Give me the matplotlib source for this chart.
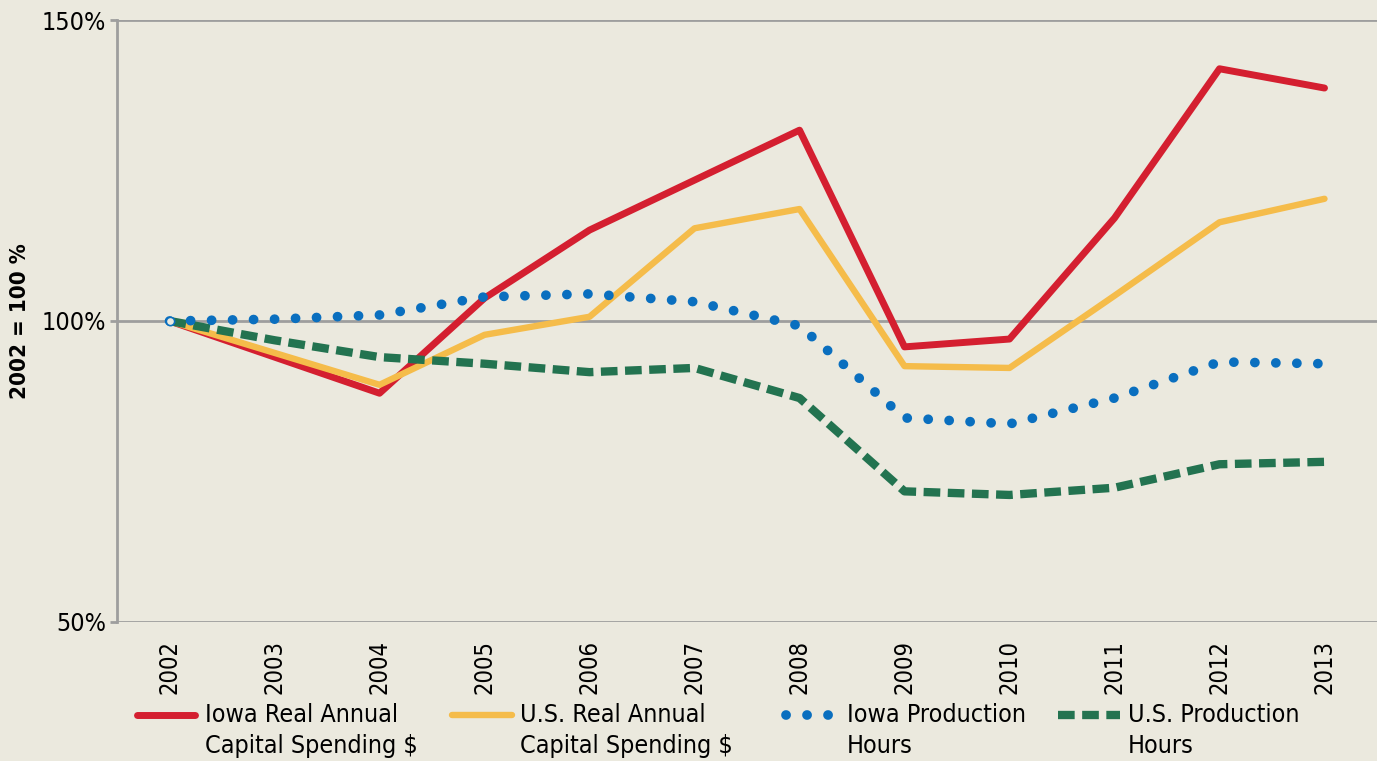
import numpy as np
import matplotlib
matplotlib.use("Agg")
import matplotlib.pyplot as plt
from matplotlib.lines import Line2D

plt.rcParams['font.family'] = ['DejaVu Sans']
plt.rcParams['font.stretch'] = 'condensed'

years = [2002, 2003, 2004, 2005, 2006, 2007, 2008, 2009, 2010, 2011, 2012, 2013]
iowa_capital = [100, 94.0, 88.0, 103.8, 115.1, 123.4, 131.7, 95.7, 97.0, 117.1, 141.9, 138.7]
us_capital = [100, 94.7, 89.4, 97.7, 100.7, 115.4, 118.6, 92.5, 92.2, 104.2, 116.4, 120.3]
iowa_hours = [100, 100.3, 101.0, 104.0, 104.5, 103.2, 99.2, 83.9, 82.9, 87.2, 93.2, 92.9]
us_hours = [100, 96.8, 94.0, 92.9, 91.5, 92.2, 87.2, 71.7, 71.1, 72.3, 76.2, 76.6]

labels = ["Iowa Real Annual\nCapital Spending $", "U.S. Real Annual\nCapital Spending $",
          "Iowa Production\nHours", "U.S. Production\nHours"]

bg = "#EBE9DE"
grey = "#9E9E9E"

fig = plt.figure(figsize=(13.77, 7.61), dpi=100, facecolor=bg)
ax = fig.add_axes([0.085, 0.1827, 0.915, 0.791])
ax.set_facecolor(bg)

x = np.arange(len(years))

for yv in [50, 100, 150]:
    ax.axhline(yv, color=grey, lw=2, zorder=1)

styles = [
    dict(color="#D41F30", lw=5, solid_capstyle="round"),
    dict(color="#F5BC4A", lw=4.6, solid_capstyle="round"),
    dict(color="#0A6FBF", lw=7, linestyle=(0, (0.01, 2.15)), dash_capstyle="round"),
    dict(color="#237350", lw=6, linestyle=(0, (2.0, 0.9)), dash_capstyle="butt"),
]
series = [iowa_capital, us_capital, iowa_hours, us_hours]
zorders = [3, 4, 5, 4]
for vals, st, z in zip(series, styles, zorders):
    ax.plot(x, vals, zorder=z, **st)
ax.plot(x[:1], iowa_hours[:1], 'o', ms=6, mfc=bg, mec="#0A6FBF", mew=1.2, zorder=6)

ax.set_xlim(-0.5, 11.5)
ax.set_ylim(50, 150)
ax.set_yticks([50, 100, 150])
ax.set_yticklabels(["50%", "100%", "150%"], fontsize=18)
ax.set_xticks(x)
ax.set_xticklabels([str(y) for y in years], rotation=90, fontsize=17)
ax.tick_params(axis='x', length=0, pad=13)
ax.tick_params(axis='y', length=5, width=2, color=grey, pad=3)
for s in ['top', 'right', 'bottom']:
    ax.spines[s].set_visible(False)
ax.spines['left'].set_color(grey)
ax.spines['left'].set_linewidth(2)
ax.set_ylabel("2002 = 100 %", fontsize=16, fontweight="bold")
ax.yaxis.set_label_coords(-0.069, 0.5)

# legend drawn by hand: handle on the first text line
W, H = 1377.0, 761.0
handle_x = [(137, 195), (452, 512), (786, 832), (1058, 1120)]
text_x = [205, 520, 847, 1128]
for (h0, h1), tx, st, lab in zip(handle_x, text_x, styles, labels):
    fig.add_artist(Line2D([h0 / W, h1 / W], [1 - 715 / H, 1 - 715 / H],
                          transform=fig.transFigure, **st))
    fig.text(tx / W, 1 - 703 / H, lab, fontsize=18, va="top", ha="left",
             linespacing=1.35)

fig.savefig("out.png", dpi=100, facecolor=bg)
